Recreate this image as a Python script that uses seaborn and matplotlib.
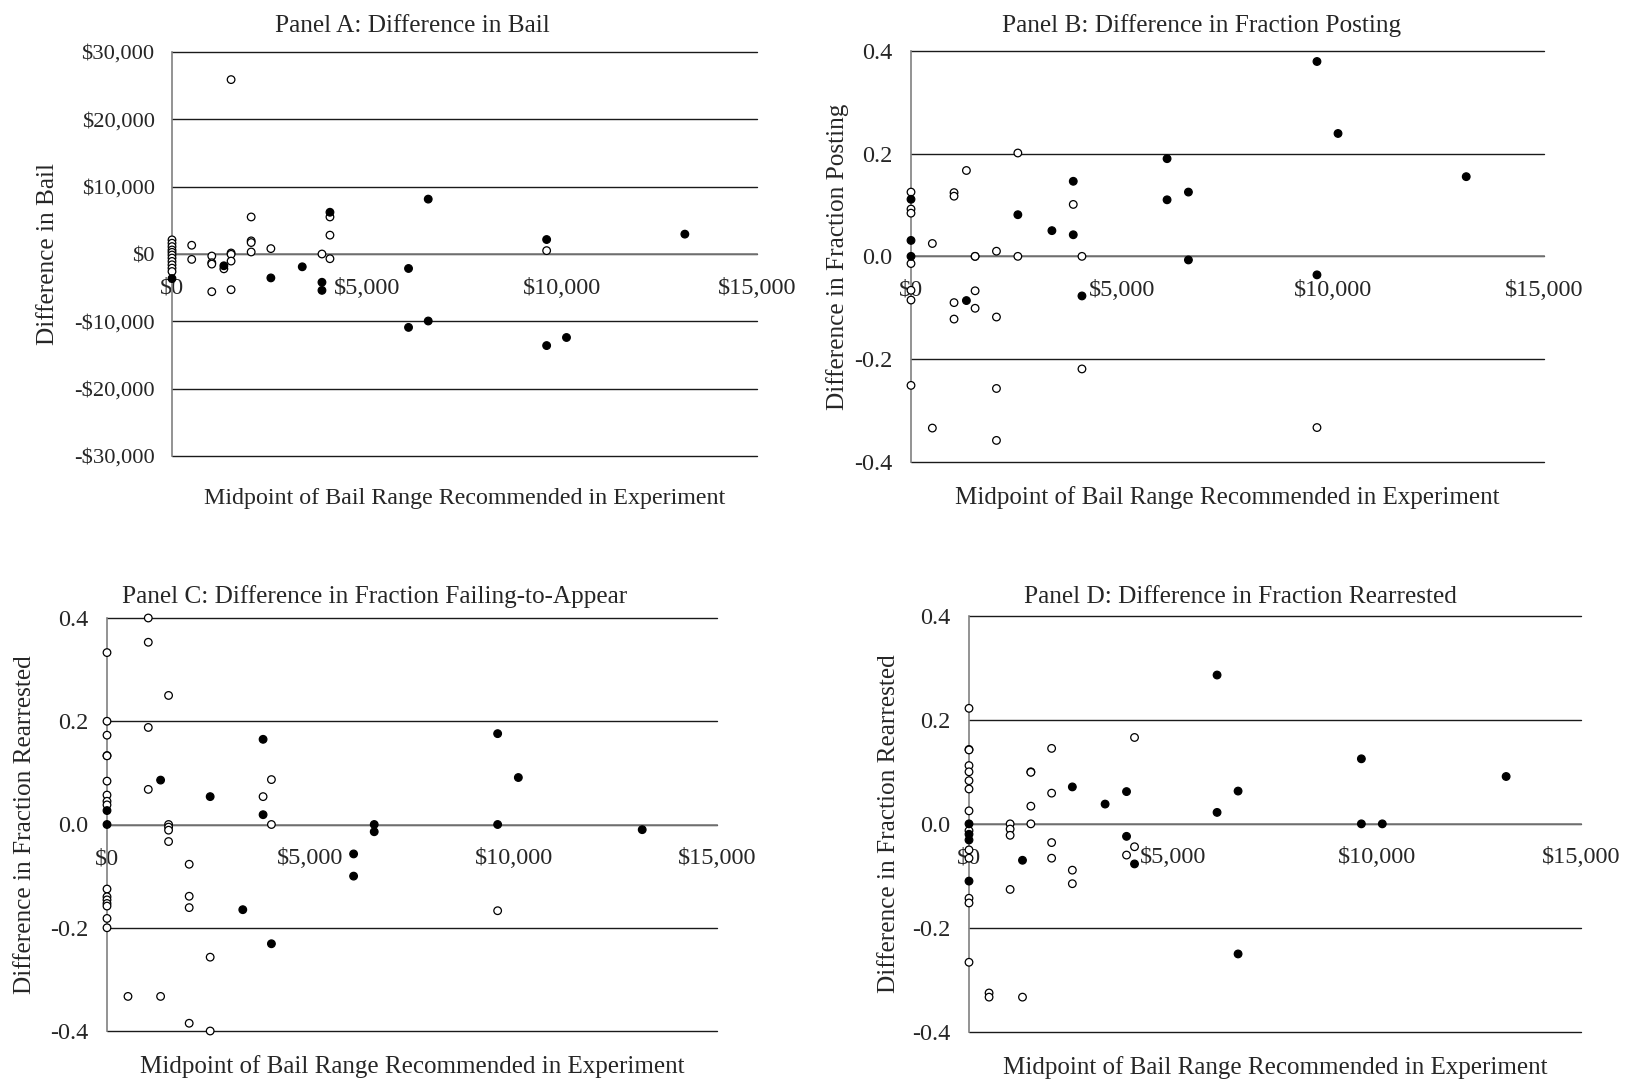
import matplotlib
matplotlib.use("Agg")
import matplotlib.pyplot as plt
import seaborn as sns
import pandas as pd

sns.set_style("white")
plt.rcParams["font.family"] = ["Liberation Serif", "DejaVu Serif"]

# ---------------- data ----------------
# Panel A: Difference in Bail
a_open_x = [0]*11 + [505, 505, 1020, 1020, 1020, 1020, 1330, 1515, 1515, 1515, 1515, 1515,
                     2030, 2030, 2030, 2030, 2535, 3845, 4050, 4050, 4050, 9606]
a_open_y = [2100, 1600, 1100, 600, 250, -150, -600, -1100, -1600, -2100, -2600,
            1300, -800, -300, -1300, -1500, -5600, -2200, 25900, 150, -50, -1050, -5300,
            5500, 1950, 1700, 300, 800, 0, 5500, 2800, -700, 500]
a_fill_x = [0, 1330, 2535, 3340, 3845, 3845, 4050, 6065, 6065, 6570, 6570, 9606, 9606, 10115, 13150]
a_fill_y = [-3650, -1750, -3550, -1900, -4200, -5400, 6200, -2150, -10900, 8150, -9950,
            2150, -13600, -12400, 2950]

# Panel B: Difference in Fraction Posting
b_open_x = [0]*7 + [506, 506, 1020, 1020, 1020, 1020, 1313, 1519, 1519, 1519, 1519,
                    2025, 2025, 2025, 2025, 2532, 2532, 3845, 4051, 4051, 9620]
b_open_y = [0.125, 0.092, 0.084, -0.014, -0.066, -0.085, -0.251,
            0.025, -0.334, 0.124, 0.117, -0.090, -0.122, 0.167, 0.0, 0.0, -0.067, -0.101,
            0.010, -0.118, -0.257, -0.358, 0.201, 0.0, 0.101, 0.0, -0.219, -0.333]
b_fill_x = [0, 0, 0, 1313, 2532, 3339, 3845, 3845, 4051, 6068, 6068, 6574, 6574, 9620, 9620, 10119, 13157]
b_fill_y = [0.111, 0.031, 0.0, -0.086, 0.081, 0.050, 0.146, 0.042, -0.077, 0.190, 0.110,
            0.125, -0.007, 0.379, -0.036, 0.239, 0.155]

# Panel C: Difference in Fraction Failing-to-Appear
c_open_x = [0]*16 + [516, 1015, 1015, 1015, 1015, 1318, 1514, 1514, 1514, 1514, 1514,
                     2021, 2021, 2021, 2021, 2537, 2537, 3838, 4043, 4043, 9606]
c_open_y = [0.333, 0.2, 0.173, 0.1335, 0.133, 0.084, 0.057, 0.045, 0.038,
            -0.125, -0.14, -0.146, -0.153, -0.158, -0.182, -0.2,
            -0.333, 0.4, 0.353, 0.188, 0.068, -0.333, 0.25, 0.0, -0.005, -0.011, -0.033,
            -0.077, -0.139, -0.161, -0.385, -0.257, -0.4, 0.054, 0.087, 0.0, -0.167]
c_fill_x = [0, 0, 1318, 2537, 3339, 3838, 3838, 4043, 6064, 6064, 6571, 6571, 9606, 9606, 10115, 13161]
c_fill_y = [0.027, 0.0, 0.086, 0.054, -0.165, 0.165, 0.019, -0.231, -0.057, -0.1, 0.0, -0.014,
            0.176, 0.0, 0.091, -0.010]

# Panel D: Difference in Fraction Rearrested
d_open_x = [0]*14 + [492, 492, 1008, 1008, 1008, 1008, 1311, 1516, 1516, 1516, 1516,
                     2025, 2025, 2025, 2025, 2533, 2533, 3861, 4057, 4057]
d_open_y = [0.222, 0.143, 0.142, 0.112, 0.100, 0.083, 0.067, 0.025, -0.013, -0.05, -0.066,
            -0.143, -0.152, -0.266,
            -0.325, -0.333, 0.0, -0.010, -0.022, -0.126, -0.333, 0.100, 0.099, 0.034, 0.0,
            0.145, 0.059, -0.036, -0.066, -0.089, -0.115, -0.060, 0.166, -0.044]
d_fill_x = [0, 0, 0, 0, 1311, 2533, 3336, 3861, 3861, 4057, 6080, 6080, 6595, 6595, 9617, 9617, 10130, 13165]
d_fill_y = [0.0, -0.02, -0.031, -0.11, -0.070, 0.071, 0.038, 0.062, -0.024, -0.077, 0.286, 0.022,
            0.063, -0.250, 0.125, 0.0, 0.0, 0.091]

x_ticks = [0, 5000, 10000, 15000]
x_tick_labels = ["$0", "$5,000", "$10,000", "$15,000"]
a_y_ticks = [30000, 20000, 10000, 0, -10000, -20000, -30000]
a_y_tick_labels = ["$30,000", "$20,000", "$10,000", "$0", "-$10,000", "-$20,000", "-$30,000"]
f_y_ticks = [0.4, 0.2, 0.0, -0.2, -0.4]
f_y_tick_labels = ["0.4", "0.2", "0.0", "-0.2", "-0.4"]

titles = ["Panel A: Difference in Bail", "Panel B: Difference in Fraction Posting",
          "Panel C: Difference in Fraction Failing-to-Appear", "Panel D: Difference in Fraction Rearrested"]
ylabels = ["Difference in Bail", "Difference in Fraction Posting",
           "Difference in Fraction Rearrested", "Difference in Fraction Rearrested"]
xlabel = "Midpoint of Bail Range Recommended in Experiment"

# ---------------- layout ----------------
W, H = 1625, 1080
FS_TICK = 17.5
FS_TITLE = 18.2
FS_YLAB = 18.2
fs_xlab = [17.3, 18.0, 18.0, 18.0]
fs_ytick = [16.2, 17.5, 17.5, 17.5]
ytick_pad = [6, 7, 7, 7]
fig = plt.figure(figsize=(W/100, H/100), dpi=100)

# axes boxes in pixels: left, right, top, bottom
boxes = [(172, 757, 52, 456), (911, 1544, 50.7, 462), (107, 717, 618, 1031), (969, 1581, 615.7, 1032)]
title_pos = [(412, 31.7), (1202, 31.7), (375, 603), (1240, 603)]   # baseline positions
xlabel_base = [504, 504, 1073, 1074]
ylabel_x = [48, 838, 25, 889]

panels = [
    (a_open_x, a_open_y, a_fill_x, a_fill_y, a_y_ticks, a_y_tick_labels),
    (b_open_x, b_open_y, b_fill_x, b_fill_y, f_y_ticks, f_y_tick_labels),
    (c_open_x, c_open_y, c_fill_x, c_fill_y, f_y_ticks, f_y_tick_labels),
    (d_open_x, d_open_y, d_fill_x, d_fill_y, f_y_ticks, f_y_tick_labels),
]

grey = "#808080"
for i, (ox, oy, fx, fy, yt, ytl) in enumerate(panels):
    l, r, t, b = boxes[i]
    ax = fig.add_axes([l/W, 1 - b/H, (r - l)/W, (b - t)/H])
    df = pd.DataFrame({
        "x": list(ox) + list(fx),
        "y": list(oy) + list(fy),
        "kind": ["open"]*len(ox) + ["filled"]*len(fx),
    })
    sns.scatterplot(data=df, x="x", y="y", hue="kind",
                    palette={"open": "white", "filled": "black"},
                    edgecolor="black", linewidth=0.9, s=30, legend=False,
                    ax=ax, clip_on=False, zorder=4)
    ax.set_xlim(0, 15000)
    ax.set_ylim(min(yt), max(yt))
    for v in yt:
        ax.axhline(v, color="#1a1a1a", lw=1.0, zorder=1, clip_on=False)
    for s in ["top", "right"]:
        ax.spines[s].set_visible(False)
    ax.spines["bottom"].set_position(("data", 0))
    ax.spines["bottom"].set_color(grey)
    ax.spines["left"].set_color(grey)
    ax.spines["bottom"].set_zorder(2)
    ax.spines["left"].set_linewidth(1.2)
    ax.spines["bottom"].set_linewidth(1.2)
    ax.set_xticks(x_ticks)
    ax.set_xticklabels(x_tick_labels)
    ax.set_yticks(yt)
    ax.set_yticklabels(ytl)
    ax.tick_params(axis="x", direction="out", length=5, width=1, color=grey, pad=12, labelsize=FS_TICK)
    ax.tick_params(axis="y", direction="out", length=6.5, width=1, color=grey, pad=ytick_pad[i],
                   labelsize=fs_ytick[i])
    ax.set_xlabel(xlabel, fontsize=fs_xlab[i])
    ax.xaxis.label.set_va("baseline")
    ax.xaxis.set_label_coords(0.5, -(xlabel_base[i] - b)/(b - t))
    ax.set_ylabel(ylabels[i], fontsize=FS_YLAB)
    ax.yaxis.label.set_va("center")
    ax.yaxis.set_label_coords((ylabel_x[i] - l)/(r - l), 0.5)
    tx, ty = title_pos[i]
    fig.text(tx/W, 1 - ty/H, titles[i], ha="center", va="baseline", fontsize=FS_TITLE)

fig.savefig("out.png", dpi=100)
